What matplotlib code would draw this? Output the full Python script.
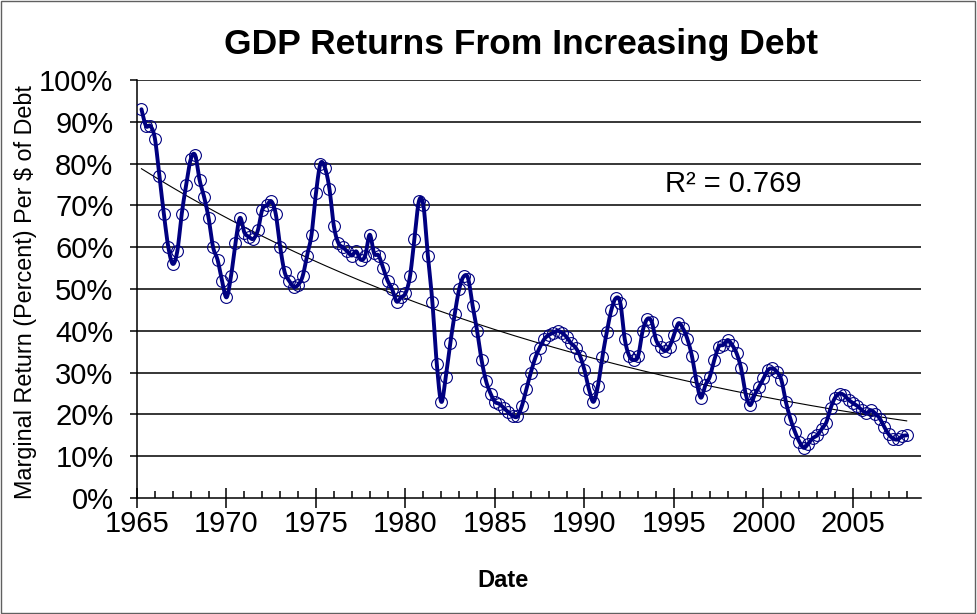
import numpy as np
import matplotlib
matplotlib.use("Agg")
import matplotlib.pyplot as plt
from matplotlib.ticker import MultipleLocator, FuncFormatter
from matplotlib.patches import Rectangle

plt.rcParams['font.family'] = ['Liberation Sans', 'DejaVu Sans']

# ---- data -------------------------------------------------------------
title = "GDP Returns From Increasing Debt"
x_label = "Date"
y_label = "Marginal Return (Percent) Per $ of Debt"
r2_label = "R\u00b2 = 0.769"

# quarterly dates (decimal years)
dates = np.arange(1965.25, 2008.01, 0.25)

# marginal return, percent
returns = [
    93, 89, 89, 86, 77, 68, 60, 56, 59, 68, 75, 81, 82, 76, 72, 67, 60, 57, 52, 48,
    53, 61, 67, 63.5, 62.5, 62, 64, 69, 70, 71, 68, 60, 54, 52, 50.5, 51, 53, 58, 63, 73,
    80, 79, 74, 65, 61, 60, 59, 58, 59, 57, 58, 63, 58.5, 58, 55, 52, 50, 47, 48, 49,
    53, 62, 71, 70, 58, 47, 32, 23, 29, 37, 44, 50, 53, 52.5, 46, 40, 33, 28, 25, 23,
    22.5, 21.5, 20.5, 19.6, 19.5, 22, 26, 30, 33.5, 36, 38, 39, 39.5, 40, 39.5, 38.5, 37, 36, 34, 30.6,
    26, 23, 26.8, 33.8, 39.8, 45, 47.8, 46.7, 38, 34, 33, 34, 40, 42.8, 42.2, 37.8, 36.2, 35.2, 36.2, 39,
    41.8, 40.6, 38, 34, 28, 24, 27, 29, 33, 36.2, 36.6, 37.8, 36.6, 34.6, 31, 25, 22.2, 24.6, 26.6, 28.6,
    30.6, 31, 30.2, 28.2, 23, 19, 15.9, 13.5, 12, 13, 14.3, 15, 16.5, 18, 21.5, 24, 25, 24.6, 23.5, 22.7,
    22, 21, 20.3, 21, 20.2, 19, 17, 15.2, 14.2, 14, 14.8, 15,
]

x_ticks = [1965, 1970, 1975, 1980, 1985, 1990, 1995, 2000, 2005]
y_ticks = [0, 10, 20, 30, 40, 50, 60, 70, 80, 90, 100]

x = np.asarray(dates, dtype=float)
y = np.asarray(returns, dtype=float)
n = min(len(x), len(y))
x, y = x[:n], y[:n]

# ---- smoothed line (Catmull-Rom through the data points) -------------
def catmull_rom(px, py, steps=12):
    P = np.column_stack([px, py])
    P = np.vstack([P[0], P, P[-1]])
    out = []
    t = np.linspace(0, 1, steps, endpoint=False)[:, None]
    for i in range(1, len(P) - 2):
        p0, p1, p2, p3 = P[i - 1], P[i], P[i + 1], P[i + 2]
        seg = 0.5 * ((2 * p1) + (-p0 + p2) * t + (2 * p0 - 5 * p1 + 4 * p2 - p3) * t ** 2
                     + (-p0 + 3 * p1 - 3 * p2 + p3) * t ** 3)
        out.append(seg)
    out.append(P[-2][None, :])
    S = np.vstack(out)
    return S[:, 0], S[:, 1]

sx, sy = catmull_rom(x, y)

# ---- exponential trend line --------------------------------------------
b, a = np.polyfit(x - x[0], np.log(y), 1)
tx = np.linspace(x[0], x[-1], 200)
ty = np.exp(a + b * (tx - x[0]))

# ---- figure -------------------------------------------------------------
fig = plt.figure(figsize=(9.77, 6.14), dpi=100)
ax = fig.add_axes([137 / 977, 1 - 498 / 614, (921 - 137) / 977, (498 - 80) / 614])

navy = '#000080'
for v in y_ticks[1:]:
    ax.axhline(v, color='black', lw=1.1, zorder=1)

ax.plot(tx, ty, color='black', lw=0.8, zorder=2)
ax.plot(sx, sy, color=navy, lw=2.8, zorder=3, solid_capstyle='round')
ax.plot(x, y, linestyle='none', marker='o', markersize=8.5, markerfacecolor='none',
        markeredgecolor=navy, markeredgewidth=0.8, zorder=4)

ax.set_xlim(1965, 2008.8)
ax.set_ylim(0, 100)

ax.xaxis.set_major_locator(plt.FixedLocator(x_ticks))
ax.xaxis.set_minor_locator(MultipleLocator(1))
ax.yaxis.set_major_locator(plt.FixedLocator(y_ticks))
ax.yaxis.set_major_formatter(FuncFormatter(lambda v, p: f"{int(round(v))}%"))
ax.xaxis.set_major_formatter(FuncFormatter(lambda v, p: f"{int(round(v))}"))

ax.tick_params(axis='x', which='major', direction='inout', length=14, width=1.1,
               labelsize=21, pad=2)
ax.tick_params(axis='x', which='minor', direction='in', length=5, width=1.1)
ax.tick_params(axis='y', which='major', direction='out', length=5, width=1.1,
               labelsize=21, pad=12)

for s in ['top', 'right']:
    ax.spines[s].set_visible(False)
for s in ['left', 'bottom']:
    ax.spines[s].set_linewidth(1.1)
    ax.spines[s].set_color('black')

ax.text(1994.5, 75, r2_label, fontsize=21, ha='left', va='center', zorder=5)

fig.text(0.533, 0.927, title, fontsize=25.5, fontweight='bold', ha='center', va='center')
fig.text(0.026, 0.525, y_label, fontsize=16.8, rotation=90, ha='center', va='center')
fig.text(0.515, 0.055, x_label, fontsize=17, fontweight='bold', ha='center', va='center')

fig.patches.append(Rectangle((0.001, 0.002), 0.997, 0.996, transform=fig.transFigure,
                             fill=False, edgecolor='#606060', lw=1.0))

fig.savefig('out.png', dpi=100, facecolor='white')
